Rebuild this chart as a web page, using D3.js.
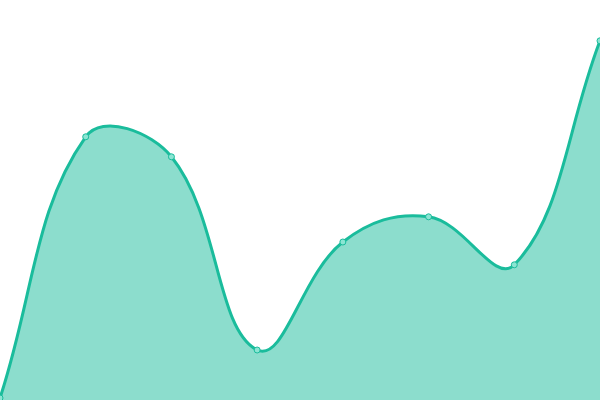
<!DOCTYPE html>
<html>
<head>
<meta charset="utf-8">
<script src="https://cdn.jsdelivr.net/npm/d3@7"></script>
<style>
  html, body { margin: 0; padding: 0; background: #fff; }
  svg { display: block; }
</style>
</head>
<body>
<div id="chart"></div>
<script>
// data
const labels = ["1", "2", "3", "4", "5", "6", "7", "8"];
const values = [0.5, 65.8, 60.8, 12.5, 39.5, 45.8, 33.8, 89.8];

const width = 600, height = 400;
const tension = 0.4;

const x = d3.scalePoint()
    .domain(labels)
    .range([0, width]);

const y = d3.scaleLinear()
    .domain([0, 100])
    .range([height, 0]);

// spline with distance-weighted control points
function splinePath(pts) {
  const p = d3.path();
  const cps = pts.map((cur, i) => {
    const prev = pts[i - 1] || cur, next = pts[i + 1] || cur;
    const d01 = Math.hypot(cur[0] - prev[0], cur[1] - prev[1]);
    const d12 = Math.hypot(next[0] - cur[0], next[1] - cur[1]);
    let fa = d01 / (d01 + d12), fb = d12 / (d01 + d12);
    if (isNaN(fa)) fa = 0;
    if (isNaN(fb)) fb = 0;
    const clampY = v => Math.max(0, Math.min(height, v));
    const clampX = v => Math.max(0, Math.min(width, v));
    return {
      prev: [clampX(cur[0] - fa * tension * (next[0] - prev[0])), clampY(cur[1] - fa * tension * (next[1] - prev[1]))],
      next: [clampX(cur[0] + fb * tension * (next[0] - prev[0])), clampY(cur[1] + fb * tension * (next[1] - prev[1]))]
    };
  });
  p.moveTo(pts[0][0], pts[0][1]);
  for (let i = 1; i < pts.length; i++) {
    const a = cps[i - 1].next, b = cps[i].prev;
    p.bezierCurveTo(a[0], a[1], b[0], b[1], pts[i][0], pts[i][1]);
  }
  return p.toString();
}

const pts = values.map((d, i) => [x(labels[i]), y(d)]);
const linePath = splinePath(pts);

const svg = d3.select("#chart").append("svg")
    .attr("width", width)
    .attr("height", height);

svg.append("path")
    .attr("fill", "rgba(26,188,156,0.5)")
    .attr("d", linePath + `L${x(labels[labels.length - 1])},${y(0)}L${x(labels[0])},${y(0)}Z`);

svg.append("path")
    .attr("fill", "none")
    .attr("stroke", "#1abc9c")
    .attr("stroke-width", 3)
    .attr("d", linePath);

svg.append("g")
  .selectAll("circle")
  .data(values)
  .join("circle")
    .attr("cx", (d, i) => x(labels[i]))
    .attr("cy", d => y(d))
    .attr("r", 3)
    .attr("fill", "#8be5d3")
    .attr("stroke", "#1abc9c")
    .attr("stroke-width", 1);
</script>
</body>
</html>
